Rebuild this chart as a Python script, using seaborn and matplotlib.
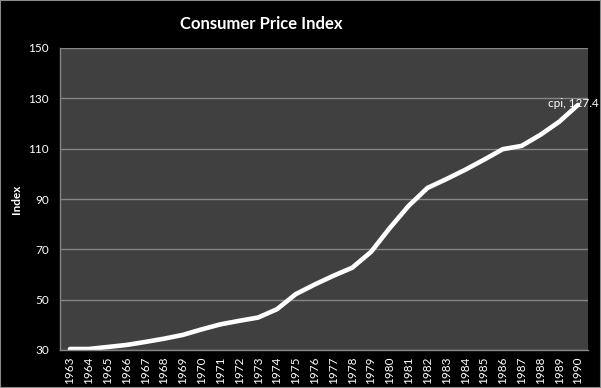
import matplotlib
matplotlib.use("Agg")
import matplotlib.pyplot as plt
import seaborn as sns
import pandas as pd
from matplotlib.patches import Rectangle

years = [str(y) for y in range(1963, 1991)]
cpi = [30.4, 30.4, 31.2, 32.0, 33.2, 34.5, 36.0, 38.2, 40.2, 41.6, 42.9, 46.2,
       52.2, 56.0, 59.5, 62.7, 69.0, 78.5, 87.3, 94.4, 97.9, 101.6, 105.6,
       109.8, 111.1, 115.5, 120.7, 127.4]
y_ticks = [30, 50, 70, 90, 110, 130, 150]
title = "Consumer Price Index"
y_label = "Index"
series_name = "cpi"

df = pd.DataFrame({"year": years, "cpi": cpi})

sns.set_theme(style="dark")
plt.rcParams['font.family'] = ['Lato', 'DejaVu Sans']

fig = plt.figure(figsize=(6.01, 3.88), dpi=100)
fig.patch.set_facecolor("black")
ax = fig.add_axes([60/601, 1-350/388, 528/601, 302/388])
ax.set_facecolor("#404040")

sns.lineplot(data=df, x="year", y="cpi", ax=ax, color="white", linewidth=3.3,
             sort=False)

ax.set_ylim(30, 150)
ax.set_yticks(y_ticks)
ax.set_xlim(-0.53, len(years) - 1 + 0.53)
ax.yaxis.grid(True, color="#858585", linewidth=1)
ax.xaxis.grid(False)
ax.tick_params(axis="both", colors="white", labelsize=8.5, length=0)
ax.tick_params(axis="y", pad=8)
ax.tick_params(axis="x", labelrotation=90, pad=5)
for lbl in ax.get_yticklabels():
    lbl.set_color("white")
for lbl in ax.get_xticklabels():
    lbl.set_color("white")

for s in ["top", "right"]:
    ax.spines[s].set_visible(False)
for s in ["left", "bottom"]:
    ax.spines[s].set_visible(True)
    ax.spines[s].set_color("#858585")
    ax.spines[s].set_linewidth(1)

ax.set_xlabel("")
ax.set_ylabel(y_label, color="white", fontsize=8.5, fontweight="bold")
ax.yaxis.set_label_coords(-38/528, 0.5)

ax.annotate(f"{series_name}, {cpi[-1]}", xy=(len(years) - 1, cpi[-1]),
            xytext=(-3, 1), textcoords="offset points", ha="center", va="center",
            color="white", fontsize=8.5, annotation_clip=False)

fig.text(261/601, 1-24/388, title, ha="center", va="center", color="white",
         fontsize=12, fontweight="bold")

fig.patches.append(Rectangle((0, 0), 1, 1, transform=fig.transFigure,
                             fill=False, edgecolor="#8a8a8a", linewidth=1.5))

fig.savefig("out.png", dpi=100, facecolor="black")
